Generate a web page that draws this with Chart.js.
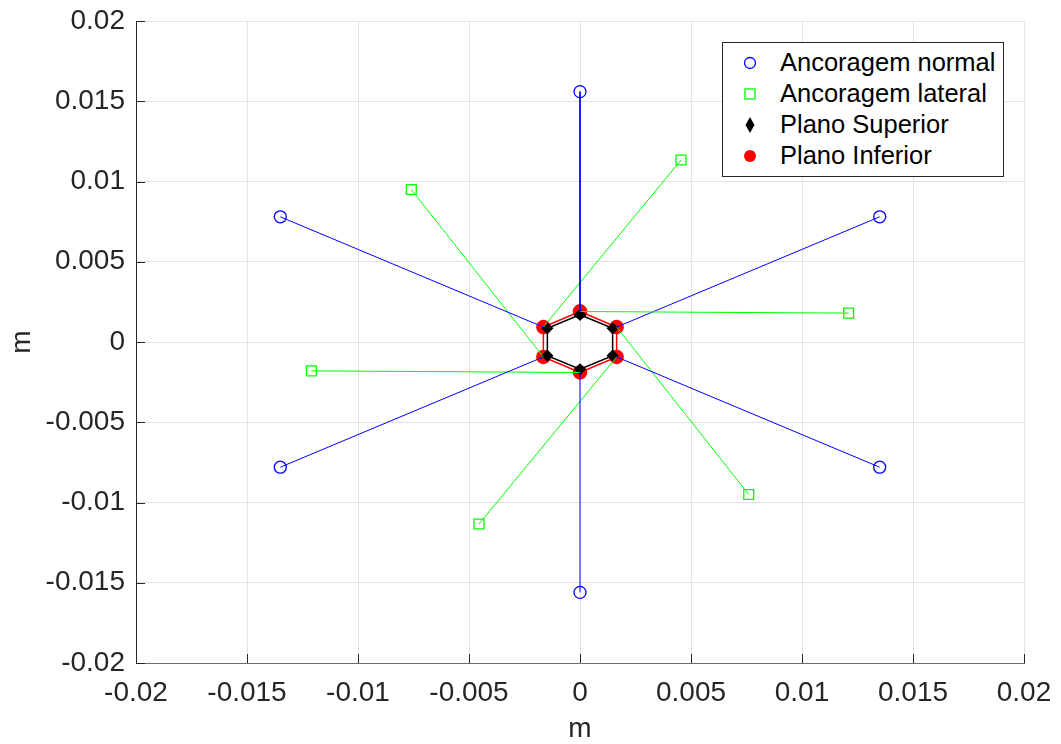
<!DOCTYPE html>
<html>
<head>
<meta charset="utf-8">
<script src="https://cdn.jsdelivr.net/npm/chart.js@4.4.1/dist/chart.umd.min.js"></script>
<style>
  body { margin: 0; background: #fff; }
  #wrap { position: relative; width: 1061px; height: 744px; }
  #legend {
    position: absolute; left: 722px; top: 42px; width: 280px; height: 129px;
    border: 1px solid #262626; background: #fff; padding-top: 4px;
    font-family: "Liberation Sans", Arial, sans-serif; font-size: 25.5px; color: #000;
  }
  #legend .row { height: 31px; display: flex; align-items: center; }
  #legend .mk { width: 57px; display: flex; justify-content: center; padding-right: 3px; box-sizing: border-box; }
</style>
</head>
<body>
<div id="wrap">
  <canvas id="c" width="1061" height="744"></canvas>
  <div id="legend"></div>
</div>
<script>
// pontos de ancoragem (m)
const normalX = [0, -0.0135, -0.0135, 0, 0.0135, 0.0135];
const normalY = [0.0156, 0.0078, -0.0078, -0.0156, -0.0078, 0.0078];
const lateralX = [0.0121, 0.00455, -0.0076, -0.0121, -0.00455, 0.0076];
const lateralY = [0.0018, 0.01134, 0.0095, -0.0018, -0.01134, -0.0095];
// vertices dos planos
const infX = [0, -0.00165, -0.00165, 0, 0.00165, 0.00165];
const infY = [0.0019, 0.00093, -0.00093, -0.0019, -0.00093, 0.00093];
const supX = [0, -0.00147, -0.00147, 0, 0.00147, 0.00147];
const supY = [0.0017, 0.00085, -0.00085, -0.0017, -0.00085, 0.00085];

const tickValues = [-0.02, -0.015, -0.01, -0.005, 0, 0.005, 0.01, 0.015, 0.02];
const tickLabels = ['-0.02', '-0.015', '-0.01', '-0.005', '0', '0.005', '0.01', '0.015', '0.02'];

const seriesNames = ['Ancoragem normal', 'Ancoragem lateral', 'Plano Superior', 'Plano Inferior'];

const BLUE = '#0000ff', GREEN = '#00ff00', RED = '#ff0000', BLACK = '#000000';
const FONT = '"Liberation Sans", Arial, sans-serif';
const TXT = '#262626';

const datasets = [];

// hexagono fechado
const hex = (xs, ys) => xs.map((x, i) => ({ x, y: ys[i] })).concat([{ x: xs[0], y: ys[0] }]);

datasets.push({
    label: seriesNames[3],
    data: hex(infX, infY),
    showLine: true, borderColor: RED, borderWidth: 1.5,
    pointStyle: 'circle', pointRadius: 6.5, pointBackgroundColor: RED, pointBorderColor: RED,
    order: 3
});
datasets.push({
    label: seriesNames[2],
    data: hex(supX, supY),
    showLine: true, borderColor: BLACK, borderWidth: 1.5,
    pointStyle: 'rectRot', pointRadius: 5, pointBackgroundColor: BLACK, pointBorderColor: BLACK,
    order: 2
});

// linhas radiais: ancoragem i -> vertice i
for (let i = 0; i < 6; i++) {
    datasets.push({
        label: seriesNames[0],
        data: [{ x: normalX[i], y: normalY[i] }, { x: infX[i], y: infY[i] }],
        showLine: true, borderColor: BLUE, borderWidth: 1,
        pointStyle: 'circle', pointRadius: [6, 0], pointBorderWidth: 1.3,
        pointBackgroundColor: 'rgba(0,0,0,0)', pointBorderColor: BLUE,
        order: 1
    });
    datasets.push({
        label: seriesNames[1],
        data: [{ x: lateralX[i], y: lateralY[i] }, { x: infX[i], y: infY[i] }],
        showLine: true, borderColor: GREEN, borderWidth: 1,
        pointStyle: 'rect', pointRadius: [7, 0], pointBorderWidth: 1.3,
        pointBackgroundColor: 'rgba(0,0,0,0)', pointBorderColor: GREEN,
        order: 1
    });
}

const innerTicks = {
    id: 'innerTicks',
    afterDatasetsDraw(chart) {
        const { ctx, chartArea: a, scales: { x, y } } = chart;
        ctx.save();
        ctx.strokeStyle = TXT;
        ctx.lineWidth = 1;
        tickValues.forEach(v => {
            const px = Math.round(x.getPixelForValue(v)) + 0.5;
            ctx.beginPath(); ctx.moveTo(px, a.bottom); ctx.lineTo(px, a.bottom - 9); ctx.stroke();
            const py = Math.round(y.getPixelForValue(v)) + 0.5;
            ctx.beginPath(); ctx.moveTo(a.left, py); ctx.lineTo(a.left + 9, py); ctx.stroke();
        });
        ctx.restore();
    }
};

const axis = (isX) => ({
    type: 'linear',
    min: -0.02, max: 0.02,
    afterBuildTicks: s => { s.ticks = tickValues.map(v => ({ value: v })); },
    afterFit: s => {
        if (isX) s.height = 81; else s.width = 136;
        s.paddingTop = s.paddingBottom = s.paddingLeft = s.paddingRight = 0;
    },
    grid: { color: '#e3e3e3', lineWidth: 1, drawTicks: false },
    border: { display: true, color: isX ? '#6e6e6e' : TXT, width: 1 },
    ticks: {
        padding: isX ? 13 : 11,
        color: TXT,
        font: { family: FONT, size: 28 },
        maxRotation: 0,
        autoSkip: false,
        callback: (v, i) => tickLabels[i]
    },
    title: {
        display: true, text: 'm', color: TXT,
        font: { family: FONT, size: 28, lineHeight: 1 },
        padding: isX ? { top: 0, bottom: 1 } : { top: 8, bottom: 0 }
    }
});

new Chart(document.getElementById('c'), {
    type: 'scatter',
    data: { datasets },
    options: {
        responsive: false,
        animation: false,
        layout: { padding: { left: 0, top: 21, right: 37, bottom: 0 } },
        plugins: { legend: { display: false }, tooltip: { enabled: false } },
        scales: { x: axis(true), y: axis(false) }
    },
    plugins: [innerTicks]
});

// legenda
const markers = [
    '<svg width="16" height="16"><circle cx="8" cy="8" r="5.5" fill="none" stroke="#0000ff" stroke-width="1.3"/></svg>',
    '<svg width="16" height="16"><rect x="3" y="3" width="10" height="10" fill="none" stroke="#00ff00" stroke-width="1.3"/></svg>',
    '<svg width="16" height="18"><polygon points="8,1 12.5,9 8,17 3.5,9" fill="#000"/></svg>',
    '<svg width="16" height="16"><circle cx="8" cy="8" r="6" fill="#ff0000"/></svg>'
];
document.getElementById('legend').innerHTML = seriesNames.map((n, i) =>
    `<div class="row"><span class="mk">${markers[i]}</span><span>${n}</span></div>`).join('');
</script>
</body>
</html>
